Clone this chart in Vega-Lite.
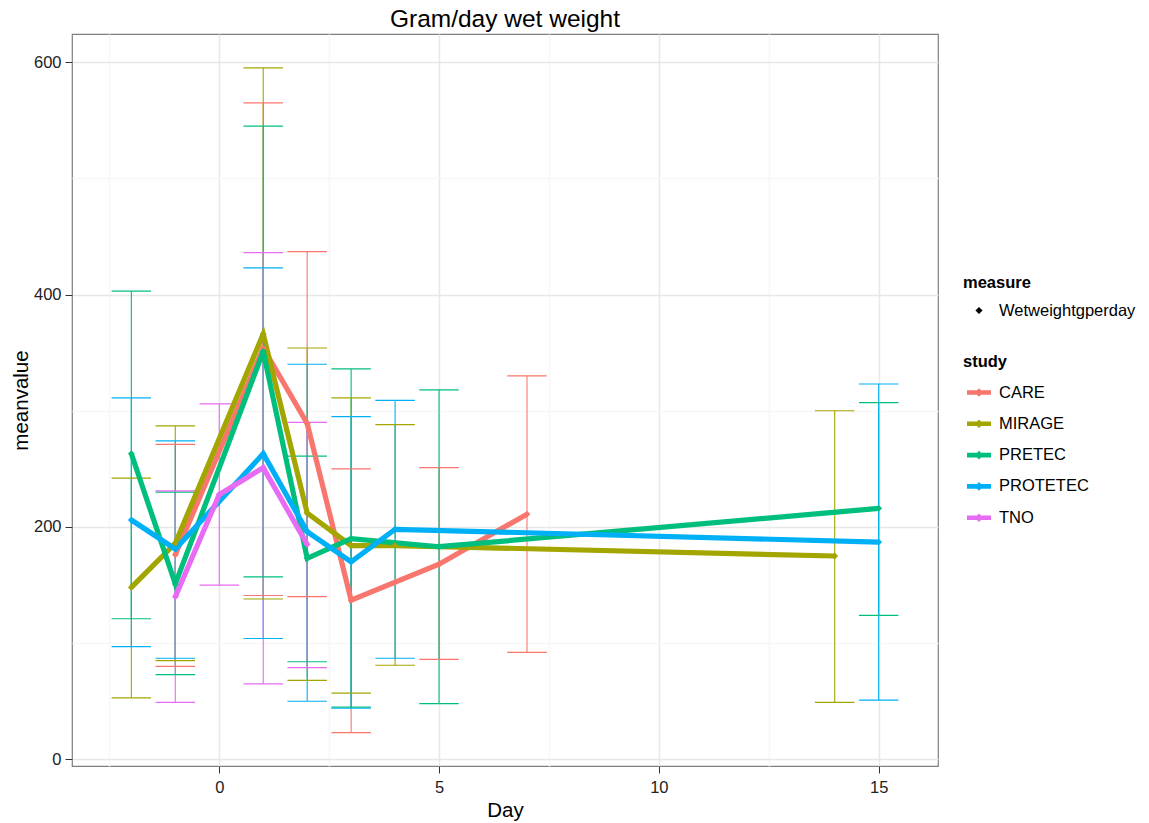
{
  "$schema": "https://vega.github.io/schema/vega-lite/v6.json",
  "width": 866,
  "height": 732,
  "autosize": {"type": "none"},
  "padding": {"left": 72, "top": 34, "right": 211, "bottom": 57},
  "title": {"text": "Gram/day wet weight", "fontSize": 24.5, "fontWeight": "normal", "font": "Liberation Sans", "color": "#000000", "anchor": "middle", "offset": 2},
  "config": {
    "font": "Liberation Sans",
    "view": {"stroke": "#7F7F7F", "strokeWidth": 1.2}
  },
  "data": {"values": [
    {"study": "CARE", "Day": -1, "mean": 176, "lower": 80, "upper": 271, "measure": "Wetweightgperday"},
    {"study": "CARE", "Day": 1, "mean": 354, "lower": 141, "upper": 565, "measure": "Wetweightgperday"},
    {"study": "CARE", "Day": 2, "mean": 289, "lower": 140, "upper": 437, "measure": "Wetweightgperday"},
    {"study": "CARE", "Day": 3, "mean": 137, "lower": 23, "upper": 250, "measure": "Wetweightgperday"},
    {"study": "CARE", "Day": 5, "mean": 168, "lower": 86, "upper": 251, "measure": "Wetweightgperday"},
    {"study": "CARE", "Day": 7, "mean": 211, "lower": 92, "upper": 330, "measure": "Wetweightgperday"},
    {"study": "MIRAGE", "Day": -2, "mean": 148, "lower": 53, "upper": 242, "measure": "Wetweightgperday"},
    {"study": "MIRAGE", "Day": -1, "mean": 186, "lower": 85, "upper": 287, "measure": "Wetweightgperday"},
    {"study": "MIRAGE", "Day": 1, "mean": 366, "lower": 138, "upper": 595, "measure": "Wetweightgperday"},
    {"study": "MIRAGE", "Day": 2, "mean": 212, "lower": 68, "upper": 354, "measure": "Wetweightgperday"},
    {"study": "MIRAGE", "Day": 3, "mean": 184, "lower": 57, "upper": 311, "measure": "Wetweightgperday"},
    {"study": "MIRAGE", "Day": 4, "mean": 184, "lower": 81, "upper": 288, "measure": "Wetweightgperday"},
    {"study": "MIRAGE", "Day": 14, "mean": 175, "lower": 49, "upper": 300, "measure": "Wetweightgperday"},
    {"study": "PRETEC", "Day": -2, "mean": 263, "lower": 121, "upper": 403, "measure": "Wetweightgperday"},
    {"study": "PRETEC", "Day": -1, "mean": 151, "lower": 73, "upper": 230, "measure": "Wetweightgperday"},
    {"study": "PRETEC", "Day": 1, "mean": 351, "lower": 157, "upper": 545, "measure": "Wetweightgperday"},
    {"study": "PRETEC", "Day": 2, "mean": 173, "lower": 84, "upper": 261, "measure": "Wetweightgperday"},
    {"study": "PRETEC", "Day": 3, "mean": 190, "lower": 45, "upper": 336, "measure": "Wetweightgperday"},
    {"study": "PRETEC", "Day": 5, "mean": 183, "lower": 48, "upper": 318, "measure": "Wetweightgperday"},
    {"study": "PRETEC", "Day": 15, "mean": 216, "lower": 124, "upper": 307, "measure": "Wetweightgperday"},
    {"study": "PROTETEC", "Day": -2, "mean": 206, "lower": 97, "upper": 311, "measure": "Wetweightgperday"},
    {"study": "PROTETEC", "Day": -1, "mean": 181, "lower": 87, "upper": 274, "measure": "Wetweightgperday"},
    {"study": "PROTETEC", "Day": 1, "mean": 263, "lower": 104, "upper": 423, "measure": "Wetweightgperday"},
    {"study": "PROTETEC", "Day": 2, "mean": 196, "lower": 50, "upper": 340, "measure": "Wetweightgperday"},
    {"study": "PROTETEC", "Day": 3, "mean": 170, "lower": 44, "upper": 295, "measure": "Wetweightgperday"},
    {"study": "PROTETEC", "Day": 4, "mean": 198, "lower": 87, "upper": 309, "measure": "Wetweightgperday"},
    {"study": "PROTETEC", "Day": 15, "mean": 187, "lower": 51, "upper": 323, "measure": "Wetweightgperday"},
    {"study": "TNO", "Day": -1, "mean": 140, "lower": 49, "upper": 231, "measure": "Wetweightgperday"},
    {"study": "TNO", "Day": 0, "mean": 228, "lower": 150, "upper": 306, "measure": "Wetweightgperday"},
    {"study": "TNO", "Day": 1, "mean": 251, "lower": 65, "upper": 436, "measure": "Wetweightgperday"},
    {"study": "TNO", "Day": 2, "mean": 185, "lower": 79, "upper": 290, "measure": "Wetweightgperday"}
  ]},
  "encoding": {
    "x": {
      "field": "Day", "type": "quantitative",
      "scale": {"domain": [-3.35, 16.35], "nice": false, "zero": false},
      "axis": {
        "title": "Day",
        "values": [-2.5, 0, 2.5, 5, 7.5, 10, 12.5, 15],
        "labelExpr": "datum.value % 5 === 0 ? datum.label : ''",
        "gridColor": {"condition": {"test": "datum.value % 5 === 0", "value": "#E8E8E8"}, "value": "#F7F7F7"},
        "gridWidth": 1.5,
        "tickOpacity": {"condition": {"test": "datum.value % 5 === 0", "value": 1}, "value": 0},
        "domain": false,
        "tickSize": 7,
        "tickColor": "#333333",
        "labelFontSize": 16.5,
        "labelColor": "#222222",
        "labelPadding": 6,
        "labelFlush": false,
        "labelOverlap": false,
        "titleFontSize": 20.5,
        "titleFontWeight": "normal",
        "titleColor": "#000000",
        "titlePadding": 5
      }
    },
    "color": {
      "field": "study", "type": "nominal",
      "scale": {"domain": ["CARE", "MIRAGE", "PRETEC", "PROTETEC", "TNO"], "range": ["#F8766D", "#A3A500", "#00BF7D", "#00B0F6", "#E76BF3"]},
      "legend": {
        "title": "study",
        "orient": "none",
        "legendX": 891,
        "legendY": 320,
        "symbolType": "M-1,-0.19L1,-0.19L1,0.19L-1,0.19Z M0,-0.36L0.36,0L0,0.36L-0.36,0Z",
        "symbolSize": 576,
        "symbolStrokeWidth": 0,
        "symbolOffset": 4,
        "labelOffset": 8,
        "rowPadding": 10.3,
        "titlePadding": 10,
        "labelFontSize": 16.5,
        "titleFontSize": 16.5,
        "titleFontWeight": "bold",
        "labelColor": "#000000",
        "titleColor": "#000000",
        "encode": {"symbols": {"update": {"fill": {"scale": "color", "field": "value"}, "opacity": {"value": 1}, "strokeWidth": {"value": 0}}}}
      }
    }
  },
  "layer": [
    {
      "mark": {"type": "rule", "strokeWidth": 1.1, "opacity": 1},
      "encoding": {
        "y": {
          "field": "lower", "type": "quantitative",
          "scale": {"domain": [-5.7, 624.2], "nice": false, "zero": false},
          "title": "meanvalue",
          "axis": {
            "title": "meanvalue",
            "values": [0, 100, 200, 300, 400, 500, 600],
            "labelExpr": "datum.value % 200 === 0 ? datum.label : ''",
            "gridColor": {"condition": {"test": "datum.value % 200 === 0", "value": "#E8E8E8"}, "value": "#F7F7F7"},
            "gridWidth": 1.5,
            "tickOpacity": {"condition": {"test": "datum.value % 200 === 0", "value": 1}, "value": 0},
            "domain": false,
            "tickSize": 7,
            "tickColor": "#333333",
            "labelFontSize": 16.5,
            "labelColor": "#222222",
            "labelPadding": 4,
            "labelFlush": false,
            "labelOverlap": false,
            "titleFontSize": 20.5,
            "titleFontWeight": "normal",
            "titleColor": "#000000",
            "titlePadding": 2
          }
        },
        "y2": {"field": "upper"}
      }
    },
    {
      "mark": {"type": "tick", "orient": "horizontal", "size": 39.5, "thickness": 1.2, "opacity": 1},
      "encoding": {
        "y": {"field": "upper", "type": "quantitative", "scale": {"domain": [-5.7, 624.2], "nice": false, "zero": false}, "title": "meanvalue"}
      }
    },
    {
      "mark": {"type": "tick", "orient": "horizontal", "size": 39.5, "thickness": 1.2, "opacity": 1},
      "encoding": {
        "y": {"field": "lower", "type": "quantitative", "scale": {"domain": [-5.7, 624.2], "nice": false, "zero": false}, "title": "meanvalue"}
      }
    },
    {
      "mark": {"type": "line", "strokeWidth": 5.2},
      "encoding": {
        "y": {"field": "mean", "type": "quantitative", "scale": {"domain": [-5.7, 624.2], "nice": false, "zero": false}, "title": "meanvalue"},
        "order": {"field": "Day", "type": "quantitative"}
      }
    },
    {
      "mark": {"type": "point", "filled": true, "size": 520, "opacity": 1, "strokeWidth": 0},
      "encoding": {
        "y": {"field": "mean", "type": "quantitative", "scale": {"domain": [-5.7, 624.2], "nice": false, "zero": false}, "title": "meanvalue"},
        "shape": {
          "field": "measure", "type": "nominal",
          "scale": {"range": ["M0,-0.3L0.3,0L0,0.3L-0.3,0Z"]},
          "legend": {
            "title": "measure",
            "orient": "none",
            "legendX": 891,
            "legendY": 241,
            "symbolSize": 576,
            "symbolOffset": 4,
            "labelOffset": 8,
            "titlePadding": 7,
            "symbolFillColor": "#000000",
            "symbolStrokeWidth": 0,
            "labelFontSize": 16.5,
            "titleFontSize": 16.5,
            "titleFontWeight": "bold",
            "labelColor": "#000000",
            "titleColor": "#000000",
            "encode": {"symbols": {"update": {"fill": {"value": "#000000"}, "opacity": {"value": 1}, "strokeWidth": {"value": 0}}}}
          }
        }
      }
    }
  ]
}
